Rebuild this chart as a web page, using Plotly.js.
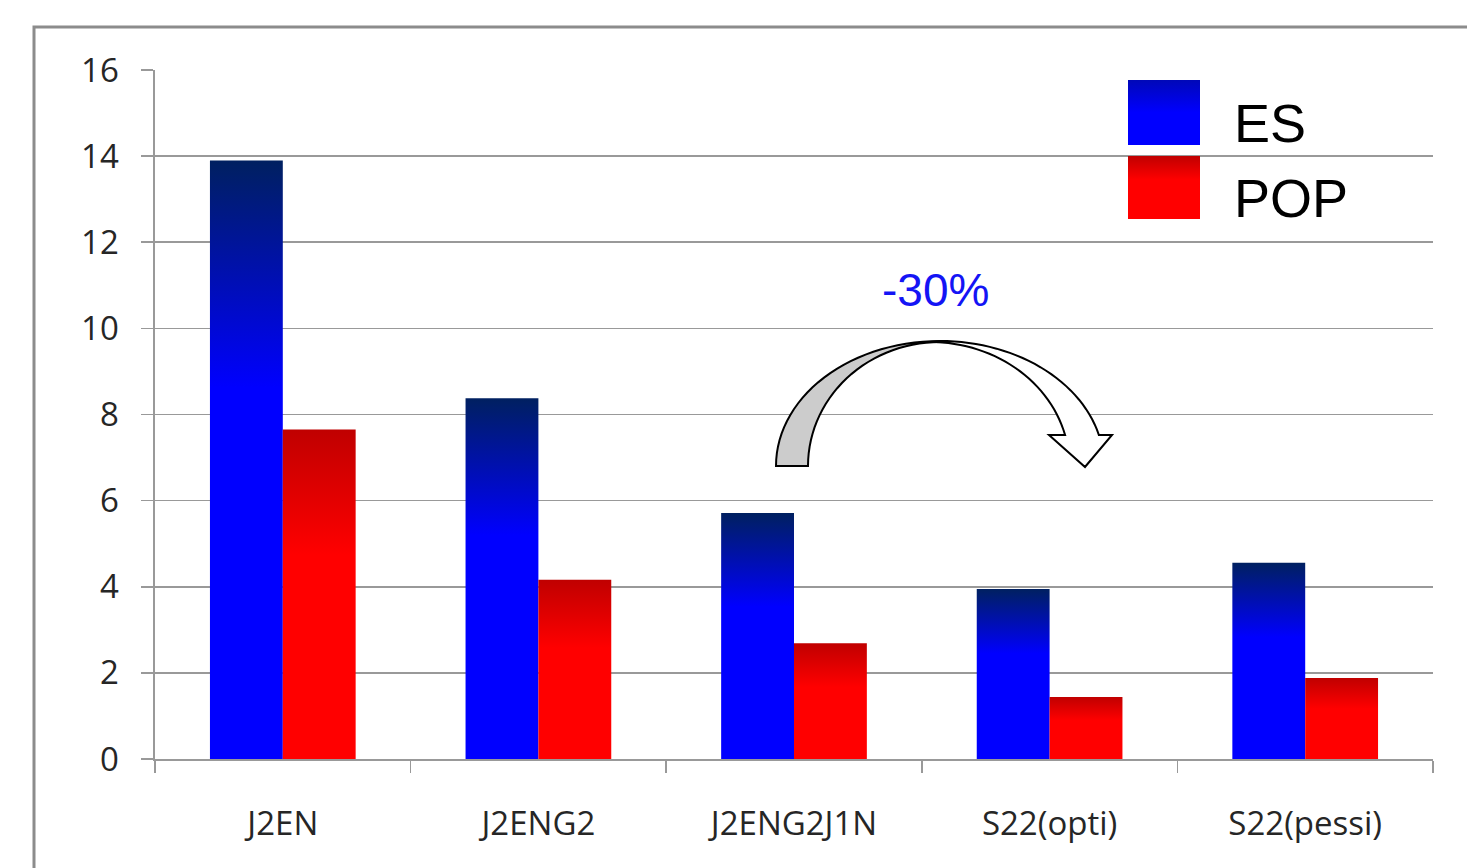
<!DOCTYPE html>
<html>
<head>
<meta charset="utf-8">
<script src="https://cdn.plot.ly/plotly-3.0.1.min.js"></script>
<style>html,body{margin:0;padding:0;background:#fff;}#chart{width:1467px;height:868px;}</style>
</head>
<body>
<div id="chart"></div>
<script>
// ---- data ----
const categories = ['J2EN', 'J2ENG2', 'J2ENG2J1N', 'S22(opti)', 'S22(pessi)'];
const esValues = [13.9, 8.38, 5.71, 3.95, 4.56];
const popValues = [7.65, 4.16, 2.69, 1.44, 1.88];
const seriesNames = ['ES', 'POP'];
const yTickVals = [0, 2, 4, 6, 8, 10, 12, 14, 16];
const annotationText = '-30%';

// ---- layout geometry (plot area in pixels) ----
const W = 1467, H = 868;
const L = 155, R = 1433, T = 70, B = 759;
const PW = R - L, PH = B - T;
const px = x => (x - L) / PW;
const py = y => (B - y) / PH;

function ellPts(cx, cy, rx, ry, t0, t1, n) {
  const pts = [];
  for (let i = 0; i <= n; i++) {
    const t = t0 + (t1 - t0) * i / n;
    pts.push([cx + rx * Math.cos(t), cy - ry * Math.sin(t)]);
  }
  return pts;
}
function toPath(pts) {
  return pts.map((p, i) => (i ? 'L' : 'M') + px(p[0]).toFixed(5) + ',' + py(p[1]).toFixed(5)).join(' ') + ' Z';
}

// curved arrow (decoration)
const tOut = Math.asin(31 / 125), tIn = Math.asin(31 / 124);
const whiteBand = [].concat(
  ellPts(940, 466, 164, 125, Math.PI / 2, tOut, 30),
  [[1112, 435], [1085, 467], [1049, 435]],
  ellPts(930, 466, 139.5, 124, tIn, Math.PI / 2, 30)
);
const grayBand = [].concat(
  ellPts(940, 466, 164, 125, Math.PI, Math.PI / 2, 30),
  ellPts(940, 466, 132, 124, Math.PI / 2, Math.PI, 30)
);

const gridCol = '#999999';
const tickFont = {family: 'Open Sans, sans-serif', size: 33, color: '#262626'};

const traces = [
  {type: 'bar', name: seriesNames[0], x: categories, y: esValues,
   marker: {color: '#0000FF', line: {width: 0}}, hoverinfo: 'none'},
  {type: 'bar', name: seriesNames[1], x: categories, y: popValues,
   marker: {color: '#FF0000', line: {width: 0}}, hoverinfo: 'none'}
];

const layout = {
  width: W, height: H,
  margin: {l: L, r: W - R, t: T, b: H - B, pad: 0},
  paper_bgcolor: '#ffffff', plot_bgcolor: '#ffffff',
  showlegend: false,
  barmode: 'group', bargap: 0.43, bargroupgap: 0,
  xaxis: {
    type: 'category', range: [-0.5, 4.5], fixedrange: true,
    showline: true, linecolor: gridCol, linewidth: 1.6,
    ticks: 'outside', tickson: 'boundaries', ticklen: 12, tickwidth: 1.6, tickcolor: gridCol,
    ticklabelstandoff: 35,
    tickfont: tickFont, showgrid: false, zeroline: false
  },
  yaxis: {
    range: [0, 16], tickvals: yTickVals, ticktext: yTickVals.map(String), fixedrange: true,
    showline: true, linecolor: gridCol, linewidth: 1.6,
    ticks: 'outside', ticklen: 12, tickwidth: 1.6, tickcolor: gridCol,
    ticklabelstandoff: 16,
    showgrid: true, gridcolor: gridCol, gridwidth: 1.6, zeroline: false,
    tickfont: tickFont
  },
  shapes: [
    {type: 'rect', xref: 'paper', yref: 'paper', x0: px(34), x1: px(1520), y0: py(920), y1: py(27),
     line: {color: '#8c8c8c', width: 3}, fillcolor: 'rgba(0,0,0,0)', layer: 'above'},
    {type: 'rect', xref: 'paper', yref: 'paper', x0: px(1128), x1: px(1200), y0: py(145), y1: py(80),
     line: {width: 0}, fillcolor: '#0000FF', layer: 'above'},
    {type: 'rect', xref: 'paper', yref: 'paper', x0: px(1128), x1: px(1200), y0: py(219), y1: py(156),
     line: {width: 0}, fillcolor: '#FF0000', layer: 'above'},
    {type: 'path', xref: 'paper', yref: 'paper', path: toPath(whiteBand),
     fillcolor: '#ffffff', line: {color: '#000000', width: 2}, layer: 'above'},
    {type: 'path', xref: 'paper', yref: 'paper', path: toPath(grayBand),
     fillcolor: '#cccccc', line: {color: '#000000', width: 2}, layer: 'above'}
  ],
  annotations: [
    {xref: 'paper', yref: 'paper', x: px(1232), y: py(123), xanchor: 'left', yanchor: 'middle',
     text: seriesNames[0], showarrow: false,
     font: {family: 'Liberation Sans, Arial, sans-serif', size: 54, color: '#000000'}},
    {xref: 'paper', yref: 'paper', x: px(1232), y: py(198), xanchor: 'left', yanchor: 'middle',
     text: seriesNames[1], showarrow: false,
     font: {family: 'Liberation Sans, Arial, sans-serif', size: 54, color: '#000000'}},
    {xref: 'paper', yref: 'paper', x: px(935), y: py(290), xanchor: 'center', yanchor: 'middle',
     text: annotationText, showarrow: false,
     font: {family: 'Liberation Sans, Arial, sans-serif', size: 46, color: '#1414f5'}}
  ]
};

Plotly.newPlot('chart', traces, layout, {displayModeBar: false, staticPlot: true}).then(gd => {
  const NS = 'http://www.w3.org/2000/svg';
  const svg = gd.querySelector('.main-svg');
  let defs = svg.querySelector('defs');
  if (!defs) { defs = document.createElementNS(NS, 'defs'); svg.insertBefore(defs, svg.firstChild); }
  function grad(id, stops) {
    const g = document.createElementNS(NS, 'linearGradient');
    g.setAttribute('id', id);
    g.setAttribute('x1', '0'); g.setAttribute('y1', '0');
    g.setAttribute('x2', '0'); g.setAttribute('y2', '1');
    stops.forEach(s => {
      const st = document.createElementNS(NS, 'stop');
      st.setAttribute('offset', s[0]);
      st.setAttribute('stop-color', s[1]);
      g.appendChild(st);
    });
    defs.appendChild(g);
  }
  grad('gES', [[0, '#002060'], [0.38, '#0000FF'], [1, '#0000FF']]);
  grad('gPOP', [[0, '#C00000'], [0.38, '#FF0000'], [1, '#FF0000']]);
  grad('gESL', [[0, '#0008B8'], [0.5, '#0000FF'], [1, '#0000FF']]);
  const tr = gd.querySelectorAll('.barlayer .trace');
  const ids = ['gES', 'gPOP'];
  tr.forEach((t, i) => {
    t.querySelectorAll('.point path').forEach(p => { p.style.fill = 'url(#' + ids[i] + ')'; });
  });
  gd.querySelectorAll('.shapelayer path').forEach(p => {
    const idx = p.getAttribute('data-index');
    if (idx === '1') p.style.fill = 'url(#gESL)';
    if (idx === '2') p.style.fill = 'url(#gPOP)';
  });
});
</script>
</body>
</html>
